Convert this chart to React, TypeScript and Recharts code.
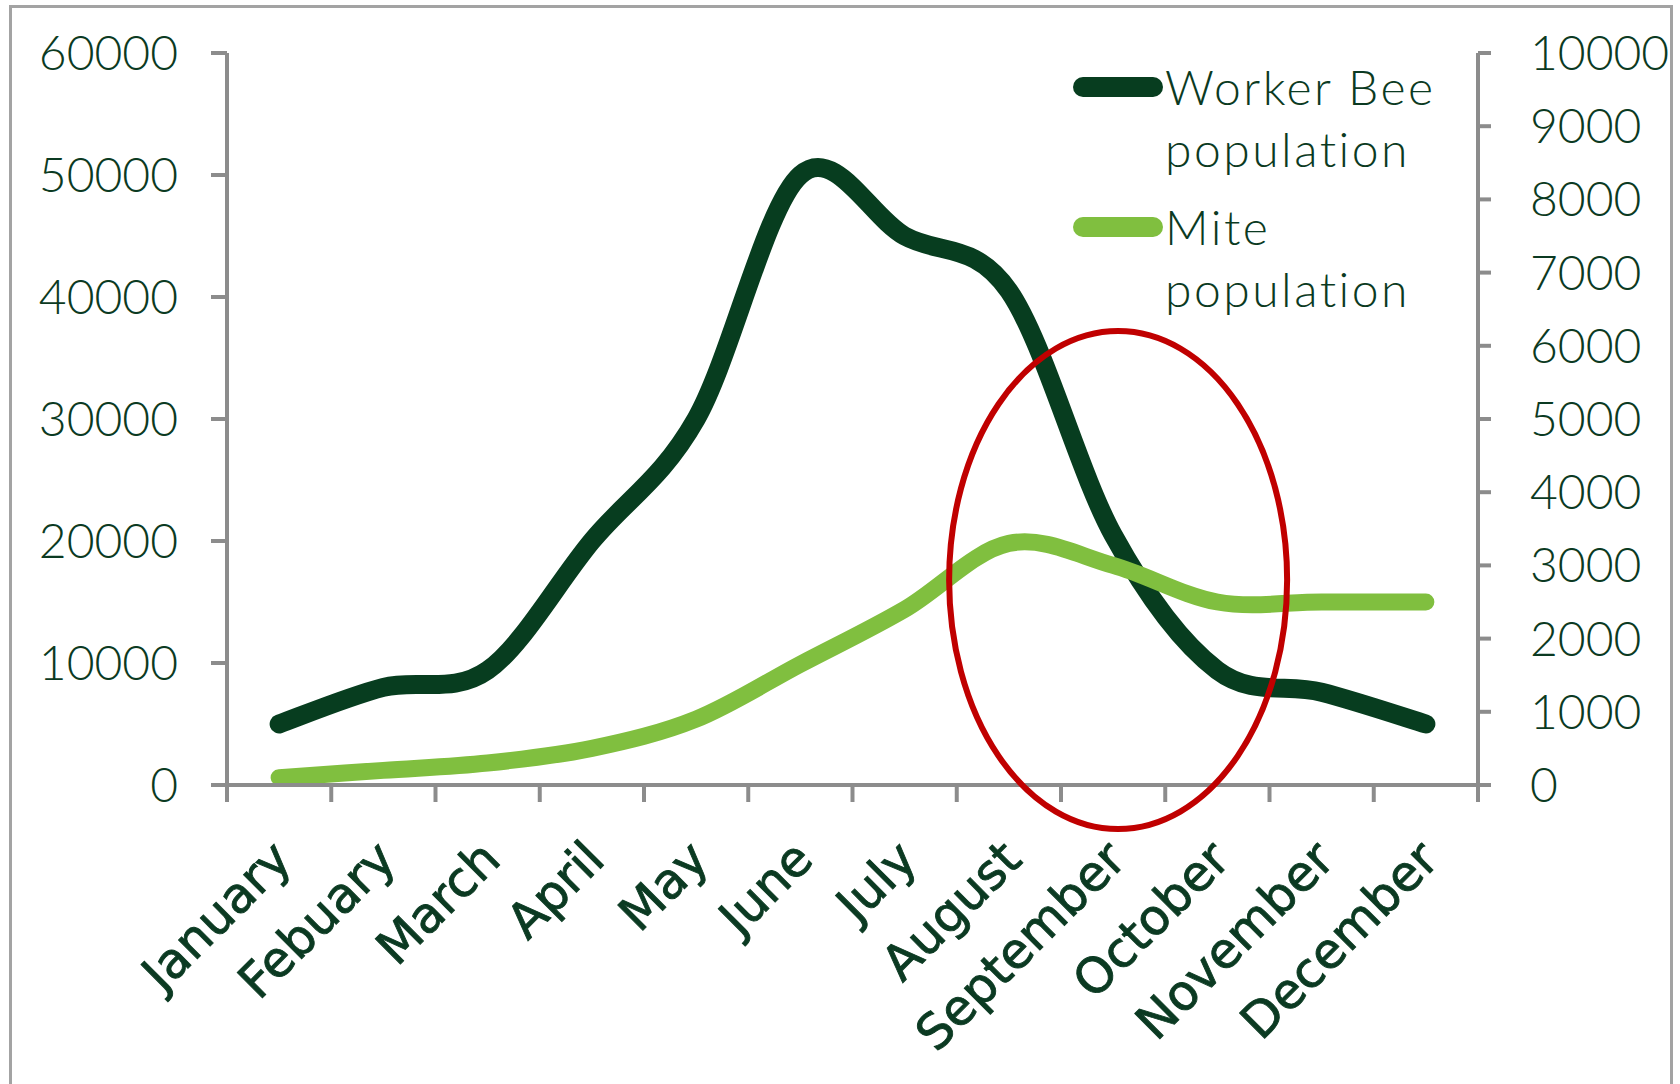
import React from 'react';
import { LineChart, Line, XAxis, YAxis, Legend, ReferenceDot } from 'recharts';

const months = ['January', 'Febuary', 'March', 'April', 'May', 'June', 'July', 'August', 'September', 'October', 'November', 'December'];
const workerBees = [5000, 8000, 9400, 20000, 30000, 50000, 45000, 40500, 20500, 9400, 7600, 5000];
const mites = [100, 200, 300, 500, 900, 1650, 2400, 3300, 3000, 2500, 2500, 2500];
const leftTicks = [0, 10000, 20000, 30000, 40000, 50000, 60000];
const rightTicks = [0, 1000, 2000, 3000, 4000, 5000, 6000, 7000, 8000, 9000, 10000];
const seriesNames = ['Worker Bee population', 'Mite population'];

const data = months.map((month, i) => ({ month, worker: workerBees[i], mite: mites[i] }));

const DARK = '#073d1f';
const LIGHT = '#80bf3f';
const TEXT = '#0b3a22';
const AXIS = '#8c8c8c';

// Excel-like smoothed line (Catmull-Rom as bezier segments)
const excelCurve = (context: any) => {
  let pts: number[][] = [];
  return {
    areaStart() {},
    areaEnd() {},
    lineStart() { pts = []; },
    point(x: number, y: number) { pts.push([+x, +y]); },
    lineEnd() {
      const n = pts.length;
      if (!n) return;
      context.moveTo(pts[0][0], pts[0][1]);
      for (let i = 0; i < n - 1; i++) {
        const p0 = pts[i - 1] || pts[i];
        const p1 = pts[i];
        const p2 = pts[i + 1];
        const p3 = pts[i + 2] || p2;
        context.bezierCurveTo(
          p1[0] + (p2[0] - p0[0]) / 6, p1[1] + (p2[1] - p0[1]) / 6,
          p2[0] - (p3[0] - p1[0]) / 6, p2[1] - (p3[1] - p1[1]) / 6,
          p2[0], p2[1],
        );
      }
    },
  };
};

// month label plus the Excel-style tick marks between categories
const MonthTick = (props: any) => {
  const { x, y, payload, index, width, visibleTicksCount } = props;
  const band = width / visibleTicksCount;
  const ax = x + 15;
  const ay = y + 77;
  return (
    <g>
      <line x1={x - band / 2} y1={y} x2={x - band / 2} y2={y + 17} stroke={AXIS} strokeWidth={4} />
      {index === visibleTicksCount - 1 && (
        <line x1={x + band / 2} y1={y} x2={x + band / 2} y2={y + 17} stroke={AXIS} strokeWidth={4} />
      )}
      <text
        x={ax}
        y={ay}
        transform={`rotate(-45 ${ax} ${ay})`}
        textAnchor="end"
        fill={TEXT}
        stroke={TEXT}
        strokeWidth={0.9}
        fontFamily="'DejaVu Sans', sans-serif"
        fontSize={49}
      >
        {payload.value}
      </text>
    </g>
  );
};

const LegendBox = (props: any) => {
  const items = [...(props.payload || [])].sort(
    (a: any, b: any) => seriesNames.indexOf(a.value) - seriesNames.indexOf(b.value),
  );
  return (
    <div style={{ fontFamily: 'Lato, sans-serif', fontWeight: 300, fontSize: 48, color: TEXT, lineHeight: '62px' }}>
      {items.map((entry: any) => {
        const name: string = entry.value;
        const cut = name.lastIndexOf(' ');
        return (
          <div key={name} style={{ display: 'flex', alignItems: 'flex-start', marginBottom: 16 }}>
            <div style={{ width: 90, height: 20, borderRadius: 10, background: entry.color, marginTop: 21, marginRight: 2, flexShrink: 0 }} />
            <div style={{ letterSpacing: 2.5 }}>
              <div>{name.slice(0, cut)}</div>
              <div>{name.slice(cut + 1)}</div>
            </div>
          </div>
        );
      })}
    </div>
  );
};

export default function App() {
  const tickStyle = { fill: TEXT, fontFamily: 'Lato, sans-serif', fontWeight: 300, fontSize: 48 };
  return (
    <div style={{ position: 'absolute', left: 0, top: 0, width: 1680, height: 1084, background: '#fff', overflow: 'hidden' }}>
      <div style={{ position: 'absolute', left: 9, top: 5, width: 1664, height: 1100, border: '3px solid #a3a3a3', boxSizing: 'border-box' }} />
      <LineChart width={1680} height={1084} data={data} margin={{ top: 53, right: 0, left: 0, bottom: 0 }}>
        <XAxis
          xAxisId="cat"
          dataKey="month"
          scale="band"
          interval={0}
          height={299}
          axisLine={{ stroke: AXIS, strokeWidth: 4 }}
          tickLine={false}
          tickSize={0}
          tickMargin={0}
          tick={<MonthTick />}
        />
        <YAxis
          yAxisId="left"
          domain={[0, 60000]}
          ticks={leftTicks}
          interval={0}
          width={227}
          tickSize={16}
          tickMargin={33}
          tick={tickStyle}
          axisLine={{ stroke: AXIS, strokeWidth: 4 }}
          tickLine={{ stroke: AXIS, strokeWidth: 4 }}
        />
        <YAxis
          yAxisId="right"
          orientation="right"
          domain={[0, 10000]}
          ticks={rightTicks}
          interval={0}
          width={202}
          tickSize={13}
          tickMargin={39}
          tick={{ ...tickStyle, textAnchor: 'start' }}
          axisLine={{ stroke: AXIS, strokeWidth: 4 }}
          tickLine={{ stroke: AXIS, strokeWidth: 4 }}
        />
        <Legend
          layout="vertical"
          align="center"
          verticalAlign="middle"
          content={<LegendBox />}
          wrapperStyle={{ left: 1073, top: 56, width: 420 }}
        />
        <Line
          xAxisId="cat"
          yAxisId="left"
          dataKey="worker"
          name={seriesNames[0]}
          type={excelCurve as any}
          stroke={DARK}
          strokeWidth={19}
          strokeLinecap="round"
          dot={false}
          activeDot={false}
          isAnimationActive={false}
        />
        <Line
          xAxisId="cat"
          yAxisId="right"
          dataKey="mite"
          name={seriesNames[1]}
          type={excelCurve as any}
          stroke={LIGHT}
          strokeWidth={17}
          strokeLinecap="round"
          dot={false}
          activeDot={false}
          isAnimationActive={false}
        />
        <ReferenceDot
          xAxisId="cat"
          yAxisId="left"
          x="September"
          y={16800}
          ifOverflow="visible"
          shape={(p: any) => (
            <ellipse cx={p.cx + 5} cy={p.cy} rx={169} ry={249} fill="none" stroke="#c00000" strokeWidth={6} />
          )}
        />
      </LineChart>
    </div>
  );
}
